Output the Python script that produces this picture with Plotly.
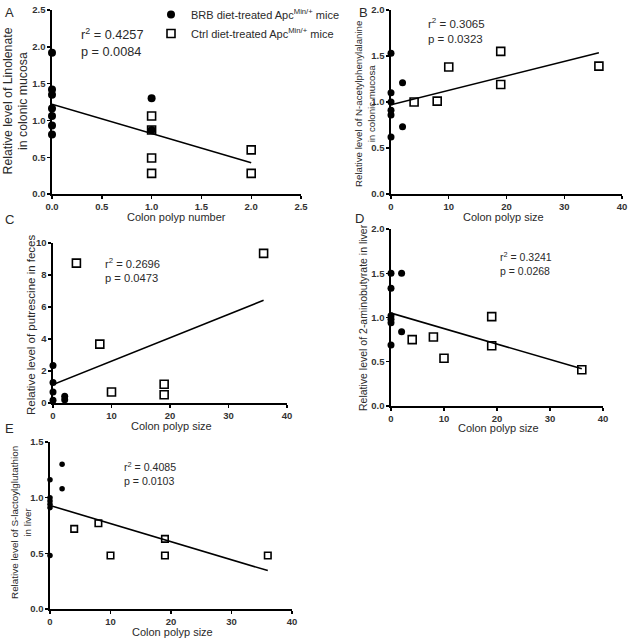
import plotly.graph_objects as go

# ---------------- data ----------------
A_brb_x = [0, 0, 0, 0, 0, 0, 0, 1, 1]
A_brb_y = [1.92, 1.42, 1.35, 1.16, 1.06, 0.93, 0.81, 1.30, 0.87]
A_ctrl_x = [1, 1, 1, 1, 2, 2]
A_ctrl_y = [1.06, 0.87, 0.49, 0.28, 0.60, 0.28]
A_fit = [1.22, -0.3975]  # intercept, slope

B_brb_x = [0, 0, 0, 0, 0, 0, 2, 2]
B_brb_y = [1.53, 1.10, 1.00, 0.91, 0.86, 0.62, 1.21, 0.73]
B_ctrl_x = [4, 8, 10, 19, 19, 36]
B_ctrl_y = [1.00, 1.01, 1.38, 1.55, 1.19, 1.39]
B_fit = [0.97, 0.0157]

C_brb_x = [0, 0, 0, 0, 2, 2]
C_brb_y = [2.35, 1.28, 0.68, 0.17, 0.42, 0.21]
C_ctrl_x = [4, 8, 10, 19, 19, 36]
C_ctrl_y = [8.74, 3.68, 0.69, 1.17, 0.52, 9.35]
C_fit = [1.15, 0.1464]

D_brb_x = [0, 0, 0, 0, 0, 0, 2, 2]
D_brb_y = [1.50, 1.33, 1.02, 0.98, 0.94, 0.69, 1.50, 0.84]
D_ctrl_x = [4, 8, 10, 19, 19, 36]
D_ctrl_y = [0.75, 0.78, 0.54, 1.01, 0.68, 0.41]
D_fit = [1.05, -0.0175]

E_brb_x = [0, 0, 0, 0, 0, 0, 2, 2]
E_brb_y = [1.16, 1.00, 0.97, 0.94, 0.91, 0.48, 1.30, 1.08]
E_ctrl_x = [4, 8, 10, 19, 19, 36]
E_ctrl_y = [0.72, 0.77, 0.48, 0.63, 0.48, 0.48]
E_fit = [0.93, -0.01625]

stats = {
    "A": ("0.4257", "0.0084"),
    "B": ("0.3065", "0.0323"),
    "C": ("0.2696", "0.0473"),
    "D": ("0.3241", "0.0268"),
    "E": ("0.4085", "0.0103"),
}

y_titles = {
    "A": "Relative level of Linolenate<br>in colonic mucosa",
    "B": "Relative level of N-acetylphenylalanine<br>in colonic mucosa",
    "C": "Relative level of putrescine in feces",
    "D": "Relative level of 2-aminobutyrate in liver",
    "E": "Relative level of S-lactoylglutathion<br>in liver",
}
x_titles = {
    "A": "Colon polyp number",
    "B": "Colon polyp size",
    "C": "Colon polyp size",
    "D": "Colon polyp size",
    "E": "Colon polyp size",
}
legend_names = ["BRB diet-treated Apc<sup>Min/+</sup> mice",
                "Ctrl diet-treated Apc<sup>Min/+</sup> mice"]

# ---------------- layout geometry (pixels of the 628x639 window) ----------------
W, H = 628, 639
FONT = "Liberation Sans, Arial, sans-serif"
TXT = "#2a2a2a"


def px_x(p):
    return p / W


def px_y(p):
    return 1 - p / H


panels = {
    "A": (52, 301, 10, 194, [0, 2.5], 0.5, [0, 2.5], 0.5, ".1f", ".1f"),
    "B": (391, 622, 10, 194, [0, 40], 10, [0, 2.0], 0.5, "d", ".1f"),
    "C": (53, 287, 243, 403, [0, 40], 10, [0, 10], 2, "d", "d"),
    "D": (391, 603, 229, 406, [0, 40], 10, [0, 2.0], 0.5, "d", ".1f"),
    "E": (50, 292, 442, 609, [0, 40], 10, [0, 1.5], 0.5, "d", ".1f"),
}

data = {
    "A": (A_brb_x, A_brb_y, A_ctrl_x, A_ctrl_y, A_fit, 8, 8),
    "B": (B_brb_x, B_brb_y, B_ctrl_x, B_ctrl_y, B_fit, 7, 8),
    "C": (C_brb_x, C_brb_y, C_ctrl_x, C_ctrl_y, C_fit, 7, 8),
    "D": (D_brb_x, D_brb_y, D_ctrl_x, D_ctrl_y, D_fit, 7, 8),
    "E": (E_brb_x, E_brb_y, E_ctrl_x, E_ctrl_y, E_fit, 5.5, 6.5),
}

stat_pos = {  # data coords of top-left of stats text, font size
    "A": (0.27, 2.31, 12.7),
    "B": (6.0, 1.96, 11.5),
    "C": (8.5, 9.3, 11.2),
    "D": (20.2, 1.78, 10.5),
    "E": (11.9, 1.36, 10.6),
}

ytitle_pos = {  # pixel x center, pixel y center, font size
    "A": (15.5, 101, 12.3),
    "B": (365, 104, 9.7),
    "C": (31, 325, 11.5),
    "D": (363, 318, 10.5),
    "E": (21, 523, 9.9),
}
xtitle_pos = {
    "A": (176, 217),
    "B": (503, 217),
    "C": (171, 426),
    "D": (498, 428),
    "E": (172, 632),
}
letter_pos = {
    "A": (3, 13),
    "B": (357, 13),
    "C": (3, 219),
    "D": (353, 218),
    "E": (3, 428),
}

fig = go.Figure()
annotations = []
layout = {}

for i, name in enumerate(["A", "B", "C", "D", "E"]):
    x0, x1, yt, yb, xr, xd, yr, yd, xf, yf = panels[name]
    bx, by, cx, cy, fit, bsize, csize = data[name]
    sfx = "" if i == 0 else str(i + 1)
    xa, ya = "x" + sfx, "y" + sfx

    axis_common = dict(
        showline=True, linecolor="black", linewidth=1.6,
        ticks="outside", ticklen=3, tickwidth=1.4, tickcolor="black",
        showgrid=False, zeroline=False, automargin=False,
        tickfont=dict(family=FONT, size=9.5, color="#333", weight="bold"),
        fixedrange=True,
    )
    layout["xaxis" + sfx] = dict(
        axis_common, domain=[px_x(x0), px_x(x1)], range=xr, dtick=xd,
        tick0=0, tickformat=xf, anchor=ya,
    )
    layout["yaxis" + sfx] = dict(
        axis_common, domain=[px_y(yb), px_y(yt)], range=yr, dtick=yd,
        tick0=0, tickformat=yf, anchor=xa,
    )

    # fit line
    xmax = max(cx + bx)
    fig.add_trace(go.Scatter(
        x=[0, xmax], y=[fit[0], fit[0] + fit[1] * xmax], mode="lines",
        line=dict(color="black", width=1.6), xaxis=xa, yaxis=ya,
        showlegend=False, hoverinfo="skip", cliponaxis=False,
    ))
    # ctrl squares
    fig.add_trace(go.Scatter(
        x=cx, y=cy, mode="markers", name=legend_names[1],
        marker=dict(symbol="square-open", size=csize, color="black",
                    line=dict(width=1.6, color="black")),
        xaxis=xa, yaxis=ya, showlegend=(name == "A"), legendrank=2,
        cliponaxis=False,
    ))
    # brb circles
    fig.add_trace(go.Scatter(
        x=bx, y=by, mode="markers", name=legend_names[0],
        marker=dict(symbol="circle", size=bsize, color="black",
                    line=dict(width=0)),
        xaxis=xa, yaxis=ya, showlegend=(name == "A"), legendrank=1,
        cliponaxis=False,
    ))

    # stats text
    sx, sy, sfs = stat_pos[name]
    r2, p = stats[name]
    annotations.append(dict(
        x=sx, y=sy, xref=xa, yref=ya, xanchor="left", yanchor="top",
        text=f"r<sup>2</sup> = {r2}<br>p = {p}", align="left", showarrow=False,
        font=dict(family=FONT, size=sfs, color=TXT),
    ))
    # y title
    tx, ty, tfs = ytitle_pos[name]
    annotations.append(dict(
        x=px_x(tx), y=px_y(ty), xref="paper", yref="paper",
        xanchor="center", yanchor="middle", textangle=-90,
        text=y_titles[name], showarrow=False,
        font=dict(family=FONT, size=tfs, color=TXT),
    ))
    # x title
    tx, ty = xtitle_pos[name]
    annotations.append(dict(
        x=px_x(tx), y=px_y(ty), xref="paper", yref="paper",
        xanchor="center", yanchor="middle",
        text=x_titles[name], showarrow=False,
        font=dict(family=FONT, size=11, color=TXT),
    ))
    # panel letter
    tx, ty = letter_pos[name]
    annotations.append(dict(
        x=px_x(tx), y=px_y(ty), xref="paper", yref="paper",
        xanchor="left", yanchor="middle",
        text=name, showarrow=False,
        font=dict(family=FONT, size=13, color=TXT),
    ))

fig.update_layout(
    width=W, height=H,
    margin=dict(l=0, r=0, t=0, b=0, autoexpand=False),
    paper_bgcolor="white", plot_bgcolor="white",
    showlegend=True,
    legend=dict(
        x=px_x(151), y=px_y(0), xanchor="left", yanchor="top",
        font=dict(family=FONT, size=11, color=TXT),
        bgcolor="rgba(0,0,0,0)", borderwidth=0, tracegroupgap=0,
        itemwidth=30,
    ),
    annotations=annotations,
    **layout,
)

# the page's default 8px body margin would shift the figure; remove it
fig.write_html(
    "out.html",
    config={"displayModeBar": False, "staticPlot": True},
    post_script="document.body.style.margin='0';document.body.style.overflow='hidden';",
)
